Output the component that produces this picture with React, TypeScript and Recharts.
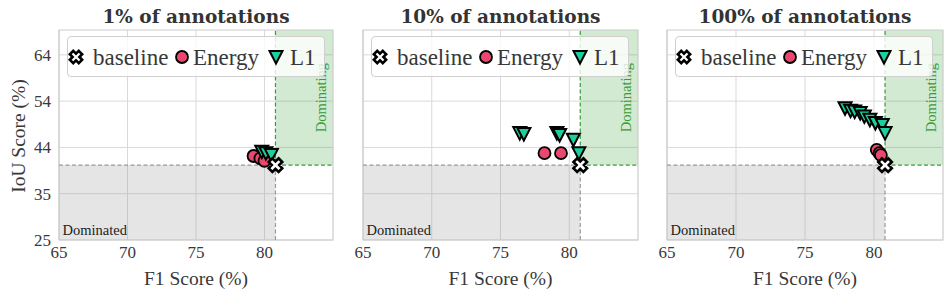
import { ScatterChart, Scatter, XAxis, YAxis, CartesianGrid, ReferenceArea, ReferenceLine, Legend } from 'recharts'

// axis setup
const xTicks = [65, 70, 75, 80]
const yTicks = [25, 34.7, 44.4, 54.1, 63.8]
const xDomain = [65, 85]
const yDomain = [25, 69]

const titles = ['1% of annotations', '10% of annotations', '100% of annotations']

// [F1, IoU]
const baseline = [[80.8, 40.7]]

const energy1 = [[79.2, 42.6], [79.7, 42.1], [80.0, 41.6]]
const energy10 = [[78.2, 43.2], [79.4, 43.2]]
const energy100 = [[80.2, 43.9], [80.4, 43.2], [80.5, 42.8]]

const l1_1 = [[79.8, 43.5], [80.1, 43.2], [80.5, 42.8]]
const l1_10 = [[76.4, 47.4], [76.7, 47.2], [79.1, 47.4], [79.3, 47.0], [80.3, 46.0], [80.7, 43.2]]
const l1_100 = [[77.9, 52.6], [78.3, 52.1], [78.6, 51.9], [79.0, 51.6], [79.3, 50.9], [79.7, 50.2], [80.1, 49.5], [80.6, 49.1], [80.8, 47.4]]

const energyRuns = [energy1, energy10, energy100]
const l1Runs = [l1_1, l1_10, l1_100]

const ENERGY = '#e8476e'
const L1 = '#1ecf9d'
const TEXT = '#383838'
const SERIF = '"Liberation Serif", serif'

// panel placement on the page
const panels = [
  { left: 0, width: 340, ml: 19, mr: 7 },
  { left: 340, width: 305, ml: 23, mr: 7 },
  { left: 645, width: 306, ml: 22, mr: 8 },
]

const toPts = (arr: number[][]) => arr.map(([f1, iou]) => ({ f1, iou }))

function XMark({ cx, cy, arm, w }: { cx: number; cy: number; arm: number; w: number }) {
  const a = w
  const b = arm
  const d = `M${-a},${-b}L${a},${-b}L${a},${-a}L${b},${-a}L${b},${a}L${a},${a}L${a},${b}L${-a},${b}L${-a},${a}L${-b},${a}L${-b},${-a}L${-a},${-a}Z`
  return <path d={d} transform={`translate(${cx},${cy}) rotate(45)`} fill="#fff" stroke="#000" strokeWidth={2.6} strokeLinejoin="miter" />
}

// scatter passes its own size prop, so keep the arm length fixed here
const BaseShape = (props: any) => <XMark cx={props.cx} cy={props.cy} arm={7} w={2.6} />

function Dot({ cx, cy }: any) {
  return <circle cx={cx} cy={cy} r={6} fill={ENERGY} stroke="#000" strokeWidth={1.8} />
}

function Tri({ cx, cy }: any) {
  return <path d={`M${cx - 6.5},${cy - 6}L${cx + 6.5},${cy - 6}L${cx},${cy + 6.5}Z`} fill={L1} stroke="#000" strokeWidth={2} strokeLinejoin="miter" />
}

function LegendBox() {
  const txt = { position: 'absolute' as const, top: 0, lineHeight: '41px', fontSize: 23, fontFamily: SERIF, color: TEXT }
  return (
    <div style={{ position: 'relative', width: 258, height: 41, boxSizing: 'border-box', border: '1px solid #cfcfcf', borderRadius: 4, background: 'rgba(255,255,255,0.8)' }}>
      <svg width={258} height={41} style={{ position: 'absolute', left: -1, top: -1 }}>
        <XMark cx={9} cy={21} arm={6.3} w={2.4} />
        <Dot cx={115} cy={21} />
        <Tri cx={209} cy={21} />
      </svg>
      <span style={{ ...txt, left: 25 }}>baseline</span>
      <span style={{ ...txt, left: 125 }}>Energy</span>
      <span style={{ ...txt, left: 222 }}>L1</span>
    </div>
  )
}

const dominatedLabel = (props: any) => {
  const vb = props.viewBox || { x: 0, y: 0, width: 0, height: 0 }
  return (
    <text x={vb.x + 3.5} y={vb.y + vb.height - 5} fontSize={14.5} fontFamily={SERIF} fill="#222">Dominated</text>
  )
}

const dominatingLabel = (props: any) => {
  const vb = props.viewBox || { x: 0, y: 0, width: 0, height: 0 }
  const x = vb.x + vb.width - 7
  const y = vb.y + vb.height / 2
  return (
    <text x={x} y={y} transform={`rotate(-90, ${x}, ${y})`} textAnchor="middle" fontSize={14.5} fontFamily={SERIF} fill="#3a9a3a">Dominating</text>
  )
}

const yLabel = () => (
  <text x={25} y={136} transform="rotate(-90, 25, 136)" textAnchor="middle" fontSize={19.5} fontFamily={SERIF} fill={TEXT}>IoU Score (%)</text>
)

function Panel({ i }: { i: number }) {
  const p = panels[i]
  const [bx, by] = baseline[0]
  const plotW = p.width - p.ml - p.mr - (i === 0 ? 40 : 0)
  const plotL = p.ml + (i === 0 ? 40 : 0)
  return (
    <div style={{ position: 'absolute', left: p.left, top: 0, width: p.width, height: 299 }}>
      <div style={{ position: 'absolute', left: plotL, width: plotW, top: 7, lineHeight: '20px', textAlign: 'center', fontFamily: '"DejaVu Serif", serif', fontWeight: 'bold', fontSize: 18.5, color: '#333', whiteSpace: 'nowrap' }}>
        {titles[i]}
      </div>
      <ScatterChart width={p.width} height={299} margin={{ top: 30, right: p.mr, bottom: 9, left: p.ml }} style={{ fontFamily: SERIF }}>
        <CartesianGrid stroke="#d9d9d9" verticalValues={xTicks} horizontalValues={yTicks} />
        <XAxis
          type="number"
          dataKey="f1"
          domain={xDomain}
          ticks={xTicks}
          allowDataOverflow
          tickLine={false}
          axisLine={false}
          tickMargin={0}
          height={50}
          tick={{ fontSize: 17, fill: TEXT, fontFamily: SERIF }}
          label={{ value: 'F1 Score (%)', position: 'insideBottom', offset: 5, fontSize: 19.5, fill: TEXT, fontFamily: SERIF }}
        />
        <YAxis
          type="number"
          dataKey="iou"
          domain={yDomain}
          ticks={yTicks}
          allowDataOverflow
          hide={i > 0}
          width={40}
          tickLine={false}
          axisLine={false}
          tickFormatter={(v: number) => String(Math.round(v))}
          tick={{ fontSize: 17, fill: TEXT, fontFamily: SERIF }}
          label={i === 0 ? yLabel : undefined}
        />
        <ReferenceArea x1={65} x2={bx} y1={25} y2={by} fill="#999" fillOpacity={0.25} stroke="none" label={dominatedLabel} />
        <ReferenceArea x1={bx} x2={85} y1={by} y2={69} fill="#2ca02c" fillOpacity={0.22} stroke="none" label={dominatingLabel} />
        <ReferenceLine segment={[{ x: 65, y: by }, { x: bx, y: by }]} stroke="#999" strokeDasharray="4 2.5" strokeWidth={1.2} />
        <ReferenceLine segment={[{ x: bx, y: 25 }, { x: bx, y: by }]} stroke="#999" strokeDasharray="4 2.5" strokeWidth={1.2} />
        <ReferenceLine segment={[{ x: bx, y: by }, { x: 85, y: by }]} stroke="#3a9a3a" strokeDasharray="4 2.5" strokeWidth={1.2} />
        <ReferenceLine segment={[{ x: bx, y: by }, { x: bx, y: 69 }]} stroke="#3a9a3a" strokeDasharray="4 2.5" strokeWidth={1.2} />
        <ReferenceArea x1={65} x2={85} y1={25} y2={69} fill="none" stroke="#cccccc" strokeWidth={1.2} />
        <Scatter name="Energy" data={toPts(energyRuns[i])} shape={Dot} isAnimationActive={false} />
        <Scatter name="L1" data={toPts(l1Runs[i])} shape={Tri} isAnimationActive={false} />
        <Scatter name="baseline" data={toPts(baseline)} shape={BaseShape} isAnimationActive={false} />
        <Legend layout="horizontal" verticalAlign="middle" align="center" wrapperStyle={{ left: plotL + 8, top: 36, width: 258, height: 41 }} content={LegendBox} />
      </ScatterChart>
    </div>
  )
}

export default function App() {
  return (
    <div style={{ position: 'absolute', left: 0, top: 0, width: 951, height: 299, background: '#fff' }}>
      <Panel i={0} />
      <Panel i={1} />
      <Panel i={2} />
    </div>
  )
}
